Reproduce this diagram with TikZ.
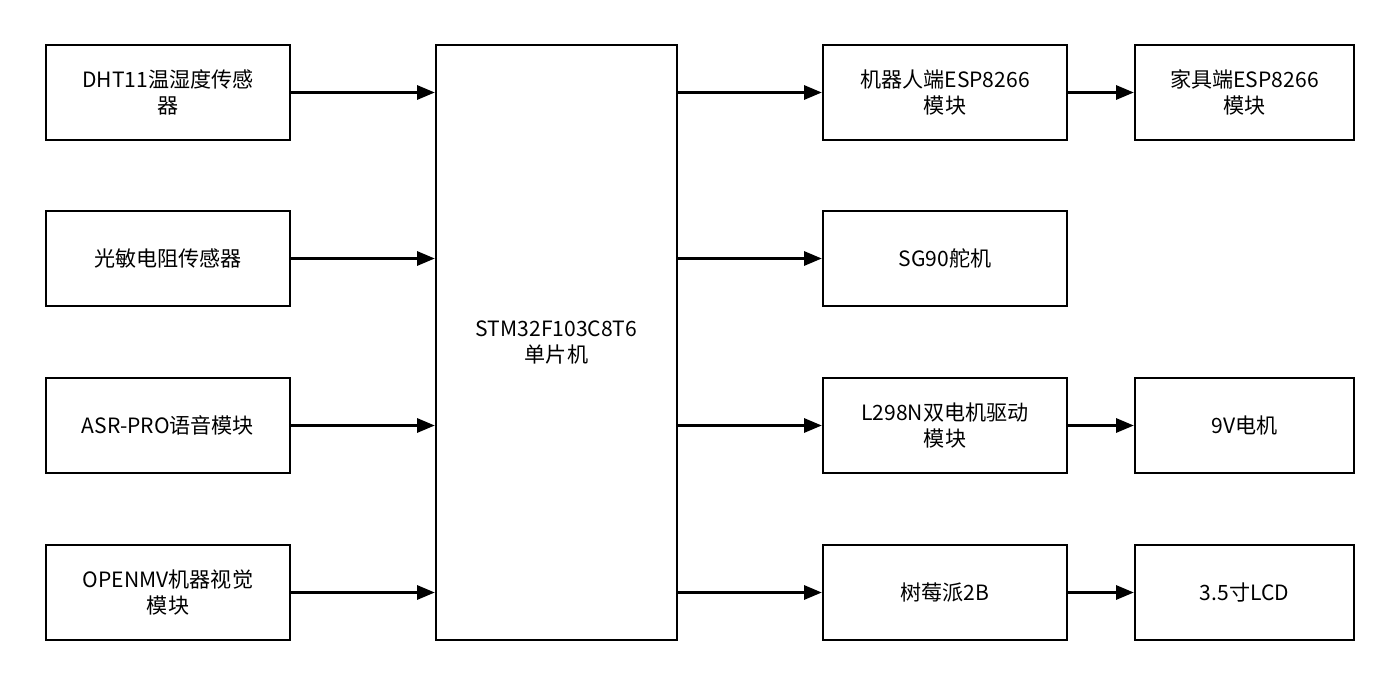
\documentclass[tikz,border=0pt]{standalone}
\usepackage{fontspec}
\setmainfont{Noto Sans CJK SC}
\usetikzlibrary{arrows.meta,positioning}
\tikzset{
  blk/.style={draw, line width=1.4pt, align=center, inner sep=0pt, font=\fontsize{12}{15}\selectfont},
  conn/.style={-{Triangle[length=10pt,width=8pt]}, line width=1.4pt}
}
\begin{document}
\begin{tikzpicture}[x=0.02cm,y=-0.02cm]
\useasboundingbox (0,0) rectangle (1400,686);
% left column
\node[blk, minimum width=244*0.02cm, minimum height=95*0.02cm] (dht) at (168,92.5) {DHT11温湿度传感\\器};
\node[blk, minimum width=244*0.02cm, minimum height=95*0.02cm] (ldr) at (168,258.5) {光敏电阻传感器};
\node[blk, minimum width=244*0.02cm, minimum height=95*0.02cm] (asr) at (168,425.5) {ASR-PRO语音模块};
\node[blk, minimum width=244*0.02cm, minimum height=95*0.02cm] (omv) at (168,592.5) {OPENMV机器视觉\\模块};
% controller
\node[blk, minimum width=241*0.02cm, minimum height=595*0.02cm] (mcu) at (556.5,342.5) {STM32F103C8T6\\单片机};
% third column
\node[blk, minimum width=244*0.02cm, minimum height=95*0.02cm] (esp) at (945,92.5) {机器人端ESP8266\\模块};
\node[blk, minimum width=244*0.02cm, minimum height=95*0.02cm] (sg) at (945,258.5) {SG90舵机};
\node[blk, minimum width=244*0.02cm, minimum height=95*0.02cm] (drv) at (945,425.5) {L298N双电机驱动\\模块};
\node[blk, minimum width=244*0.02cm, minimum height=95*0.02cm] (rpi) at (945,592.5) {树莓派2B};
% fourth column
\node[blk, minimum width=219*0.02cm, minimum height=95*0.02cm] (esp2) at (1244.5,92.5) {家具端ESP8266\\模块};
\node[blk, minimum width=219*0.02cm, minimum height=95*0.02cm] (mot) at (1244.5,425.5) {9V电机};
\node[blk, minimum width=219*0.02cm, minimum height=95*0.02cm] (lcd) at (1244.5,592.5) {3.5寸LCD};
% connectors
\draw[conn] (dht.east) -- (mcu.west |- dht.east);
\draw[conn] (ldr.east) -- (mcu.west |- ldr.east);
\draw[conn] (asr.east) -- (mcu.west |- asr.east);
\draw[conn] (omv.east) -- (mcu.west |- omv.east);
\draw[conn] (mcu.east |- esp.west) -- (esp.west);
\draw[conn] (mcu.east |- sg.west) -- (sg.west);
\draw[conn] (mcu.east |- drv.west) -- (drv.west);
\draw[conn] (mcu.east |- rpi.west) -- (rpi.west);
\draw[conn] (esp.east) -- (esp2.west);
\draw[conn] (drv.east) -- (mot.west);
\draw[conn] (rpi.east) -- (lcd.west);
\end{tikzpicture}
\end{document}
